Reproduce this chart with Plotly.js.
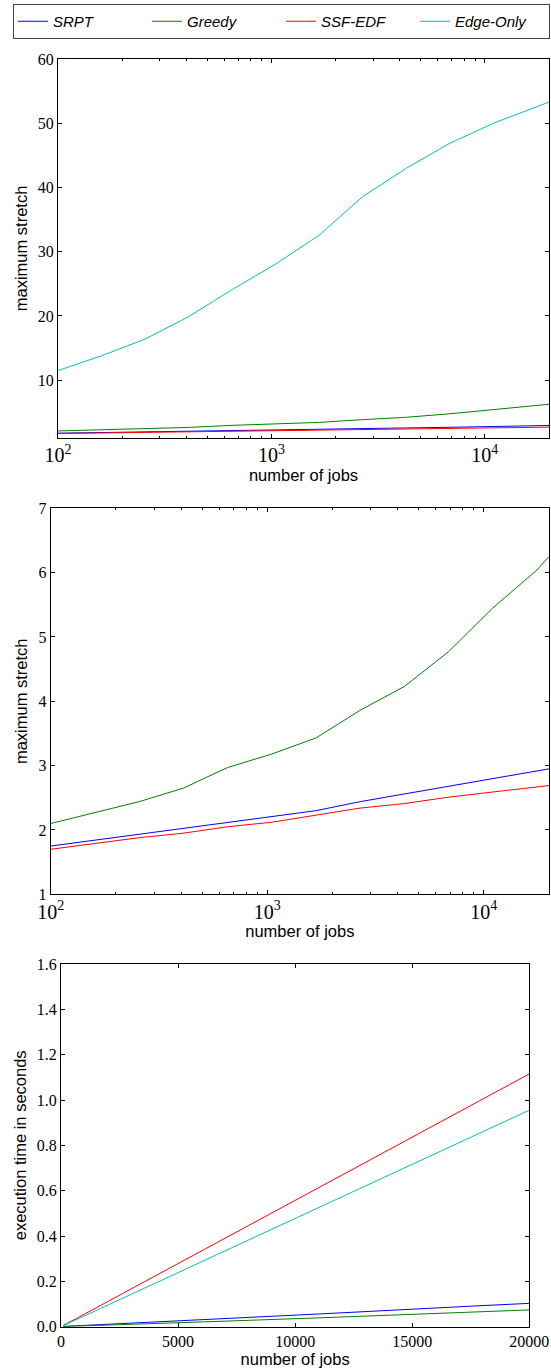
<!DOCTYPE html>
<html>
<head>
<meta charset="utf-8">
<script src="https://cdn.plot.ly/plotly-3.0.1.min.js"></script>
<style>html,body{margin:0;padding:0;background:#fff;}</style>
</head>
<body>
<div id="chart" style="width:551px;height:1371px;"></div>
<script>
// ---- data ----
const seriesNames = ['SRPT', 'Greedy', 'SSF-EDF', 'Edge-Only'];
const jobs = [100, 160, 256, 410, 655, 1049, 1678, 2684, 4295, 6872, 10995, 17592, 20000];

// maximum stretch
const stretchSRPT   = [1.75, 1.84, 1.93, 2.02, 2.12, 2.20, 2.30, 2.44, 2.56, 2.67, 2.79, 2.92, 2.95];
const stretchGreedy = [2.10, 2.27, 2.44, 2.65, 2.97, 3.18, 3.43, 3.86, 4.23, 4.77, 5.45, 6.04, 6.25];
const stretchSSF    = [1.70, 1.79, 1.88, 1.95, 2.05, 2.12, 2.23, 2.34, 2.41, 2.51, 2.59, 2.66, 2.69];
const stretchEdge   = [11.5, 13.8, 16.4, 19.9, 24.1, 28.1, 32.6, 38.6, 43.0, 46.9, 50.0, 52.6, 53.3];

// execution time in seconds
const timeSRPT   = [0.001, 0.001, 0.002, 0.003, 0.004, 0.006, 0.009, 0.014, 0.022, 0.035, 0.056, 0.091, 0.103];
const timeGreedy = [0.001, 0.001, 0.001, 0.002, 0.003, 0.004, 0.006, 0.009, 0.015, 0.024, 0.039, 0.065, 0.074];
const timeSSF    = [0.006, 0.009, 0.014, 0.023, 0.036, 0.058, 0.093, 0.150, 0.240, 0.383, 0.613, 0.980, 1.115];
const timeEdge   = [0.005, 0.008, 0.012, 0.020, 0.031, 0.050, 0.080, 0.128, 0.205, 0.328, 0.526, 0.841, 0.955];

const xTitle = 'number of jobs';
const yTitleStretch = 'maximum stretch';
const yTitleTime = 'execution time in seconds';

// ---- styling ----
const colors = ['#0000ff', '#008000', '#ff0000', '#00bfbf'];
const stretchSets = [stretchSRPT, stretchGreedy, stretchSSF, stretchEdge];
const timeSets = [timeSRPT, timeGreedy, timeSSF, timeEdge];

const traces = [];
seriesNames.forEach((name, i) => {
  traces.push({x: jobs, y: stretchSets[i], name: name, type: 'scatter', mode: 'lines',
    line: {color: colors[i], width: 1}, xaxis: 'x', yaxis: 'y', legendgroup: name, showlegend: true});
});
seriesNames.forEach((name, i) => {
  if (name === 'Edge-Only') return;
  traces.push({x: jobs, y: stretchSets[i], name: name, type: 'scatter', mode: 'lines',
    line: {color: colors[i], width: 1}, xaxis: 'x2', yaxis: 'y2', legendgroup: name, showlegend: false});
});
seriesNames.forEach((name, i) => {
  traces.push({x: jobs, y: timeSets[i], name: name, type: 'scatter', mode: 'lines',
    line: {color: colors[i], width: 1}, xaxis: 'x3', yaxis: 'y3', legendgroup: name, showlegend: false});
});

const W = 551, H = 1371;
const tickFont = {family: 'Liberation Serif, DejaVu Serif, serif', size: 16, color: 'black'};
const titleFont = {family: 'Liberation Sans, Arial, sans-serif', size: 16.5, color: 'black'};

function baseAxis(extra) {
  return Object.assign({
    showline: true, linecolor: 'black', linewidth: 1, mirror: 'allticks',
    ticks: 'inside', ticklen: 4, tickwidth: 1, tickcolor: 'black',
    showgrid: false, zeroline: false, tickfont: tickFont, automargin: false
  }, extra);
}
function logX(domain, anchor) {
  return baseAxis({
    type: 'log', domain: domain, anchor: anchor,
    range: [2, Math.log10(20000)], dtick: 1, exponentformat: 'power',
    minor: {dtick: 'D1', ticks: 'inside', ticklen: 2, tickcolor: 'black', tickwidth: 1, showgrid: false},
    title: {text: xTitle, font: titleFont, standoff: 3}
  });
}

const layout = {
  width: W, height: H,
  margin: {l: 0, r: 0, t: 0, b: 0},
  paper_bgcolor: 'white', plot_bgcolor: 'white',
  showlegend: true,
  legend: {
    orientation: 'h', x: 13 / W, y: 1 - 4 / H, xanchor: 'left', yanchor: 'top',
    bordercolor: '#444', borderwidth: 1, bgcolor: 'white',
    font: {family: 'Liberation Sans, Arial, sans-serif', size: 15, style: 'italic', color: 'black'},
    entrywidth: 89, entrywidthmode: 'pixels', itemwidth: 30, tracegroupgap: 0
  },
  xaxis: logX([58 / W, 549 / W], 'y'),
  yaxis: baseAxis({domain: [1 - 438 / H, 1 - 59 / H], anchor: 'x', range: [1, 60], dtick: 10, tick0: 0,
    title: {text: yTitleStretch, font: titleFont, standoff: 6}}),
  xaxis2: logX([50.7 / W, 549 / W], 'y2'),
  yaxis2: baseAxis({domain: [1 - 894.3 / H, 1 - 508.3 / H], anchor: 'x2', range: [1, 7], dtick: 1, tick0: 0,
    title: {text: yTitleStretch, font: titleFont, standoff: 6}}),
  xaxis3: baseAxis({domain: [61 / W, 529.3 / W], anchor: 'y3', range: [0, 20000], dtick: 5000, tick0: 0,
    tickformat: 'd', title: {text: xTitle, font: titleFont, standoff: 2}}),
  yaxis3: baseAxis({domain: [1 - 1326.7 / H, 1 - 964 / H], anchor: 'x3', range: [0, 1.6], dtick: 0.2, tick0: 0,
    tickformat: '.1f', title: {text: yTitleTime, font: titleFont, standoff: 6}})
};

Plotly.newPlot('chart', traces, layout, {staticPlot: true, displayModeBar: false});
</script>
</body>
</html>
